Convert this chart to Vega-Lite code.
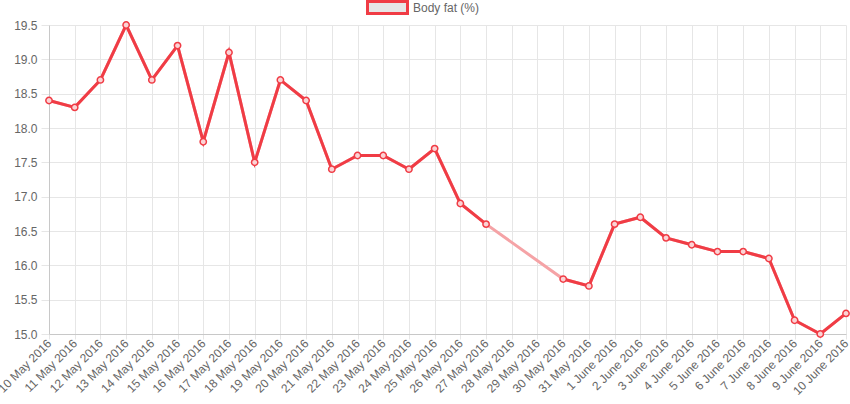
{
  "$schema": "https://vega.github.io/schema/vega-lite/v6.json",
  "width": 797,
  "height": 309,
  "autosize": {"type": "none"},
  "padding": {"left": 49, "top": 25, "right": 4, "bottom": 70},
  "background": "white",
  "config": {
    "view": {"stroke": null},
    "font": "Liberation Sans",
    "axis": {
      "labelFont": "Liberation Sans",
      "labelFontSize": 12,
      "labelColor": "#666666",
      "gridColor": "#e6e6e6",
      "gridWidth": 1,
      "tickColor": "#e6e6e6",
      "tickSize": 8,
      "domainColor": "#c8c8c8",
      "title": null
    }
  },
  "data": {
    "values": [
      {"date": "10 May 2016", "fat": 18.4},
      {"date": "11 May 2016", "fat": 18.3},
      {"date": "12 May 2016", "fat": 18.7},
      {"date": "13 May 2016", "fat": 19.5},
      {"date": "14 May 2016", "fat": 18.7},
      {"date": "15 May 2016", "fat": 19.2},
      {"date": "16 May 2016", "fat": 17.8},
      {"date": "17 May 2016", "fat": 19.1},
      {"date": "18 May 2016", "fat": 17.5},
      {"date": "19 May 2016", "fat": 18.7},
      {"date": "20 May 2016", "fat": 18.4},
      {"date": "21 May 2016", "fat": 17.4},
      {"date": "22 May 2016", "fat": 17.6},
      {"date": "23 May 2016", "fat": 17.6},
      {"date": "24 May 2016", "fat": 17.4},
      {"date": "25 May 2016", "fat": 17.7},
      {"date": "26 May 2016", "fat": 16.9},
      {"date": "27 May 2016", "fat": 16.6},
      {"date": "28 May 2016", "fat": null},
      {"date": "29 May 2016", "fat": null},
      {"date": "30 May 2016", "fat": 15.8},
      {"date": "31 May 2016", "fat": 15.7},
      {"date": "1 June 2016", "fat": 16.6},
      {"date": "2 June 2016", "fat": 16.7},
      {"date": "3 June 2016", "fat": 16.4},
      {"date": "4 June 2016", "fat": 16.3},
      {"date": "5 June 2016", "fat": 16.2},
      {"date": "6 June 2016", "fat": 16.2},
      {"date": "7 June 2016", "fat": 16.1},
      {"date": "8 June 2016", "fat": 15.2},
      {"date": "9 June 2016", "fat": 15.0},
      {"date": "10 June 2016", "fat": 15.3}
    ]
  },
  "encoding": {
    "x": {
      "field": "date",
      "type": "ordinal",
      "sort": null,
      "scale": {
        "type": "point",
        "padding": 0,
        "domain": ["10 May 2016", "11 May 2016", "12 May 2016", "13 May 2016", "14 May 2016", "15 May 2016", "16 May 2016", "17 May 2016", "18 May 2016", "19 May 2016", "20 May 2016", "21 May 2016", "22 May 2016", "23 May 2016", "24 May 2016", "25 May 2016", "26 May 2016", "27 May 2016", "28 May 2016", "29 May 2016", "30 May 2016", "31 May 2016", "1 June 2016", "2 June 2016", "3 June 2016", "4 June 2016", "5 June 2016", "6 June 2016", "7 June 2016", "8 June 2016", "9 June 2016", "10 June 2016"]
      },
      "axis": {
        "labelAngle": -45,
        "labelAlign": "right",
        "labelBaseline": "middle",
        "labelPadding": 2,
        "grid": true,
        "tickSize": 5
      }
    },
    "y": {
      "field": "fat",
      "type": "quantitative",
      "scale": {"domain": [15, 19.5], "nice": false, "zero": false},
      "axis": {
        "values": [15, 15.5, 16, 16.5, 17, 17.5, 18, 18.5, 19, 19.5],
        "format": ".1f",
        "labelPadding": 4,
        "grid": true
      }
    }
  },
  "layer": [
    {
      "transform": [{"filter": "isValid(datum.fat)"}],
      "mark": {"type": "line", "color": "#f5a3a6", "strokeWidth": 3}
    },
    {
      "mark": {"type": "line", "strokeWidth": 3},
      "encoding": {
        "color": {
          "datum": "Body fat (%)",
          "scale": {"range": ["#f03c45"]},
          "legend": {
            "orient": "none",
            "legendX": 317,
            "legendY": -39,
            "title": null,
            "symbolType": "M-1,-0.3H1V0.3H-1Z",
            "symbolSize": 1600,
            "symbolStrokeWidth": 3,
            "symbolFillColor": "#e6e6e6",
            "labelFont": "Liberation Sans",
            "labelFontSize": 12,
            "labelColor": "#666666",
            "padding": 0,
            "encode": {
              "symbols": {
                "update": {
                  "fill": {"value": "#e6e6e6"},
                  "stroke": {"value": "#f03c45"},
                  "strokeWidth": {"value": 3}
                }
              }
            }
          }
        }
      }
    },
    {
      "transform": [{"filter": "isValid(datum.fat)"}],
      "mark": {"type": "point", "filled": true, "fill": "#fbd3d5", "stroke": "#f03c45", "strokeWidth": 1.5, "size": 40, "opacity": 1}
    }
  ]
}
